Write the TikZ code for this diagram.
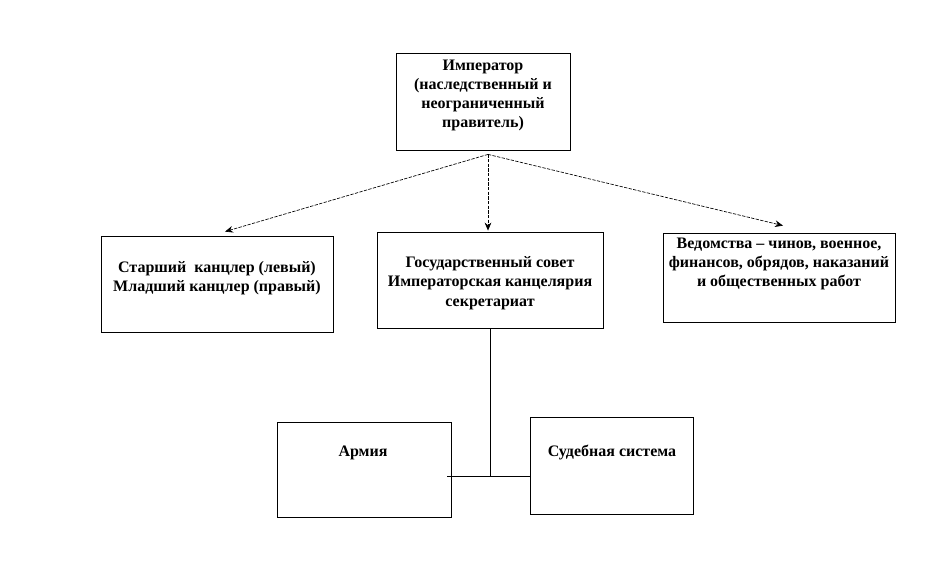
\documentclass[tikz,border=0pt]{standalone}
\usepackage{fontspec}
\setmainfont{Liberation Serif}
\usetikzlibrary{arrows.meta}
\tikzset{
  box/.style={draw=black, line width=0.6pt, inner sep=0pt, fill=white},
  txt/.style={align=center, font=\fontsize{12pt}{14.4pt}\selectfont\bfseries, inner sep=0pt},
  arr/.style={-{Stealth[length=6pt,width=5pt]}, line width=0.5pt, dash pattern=on 2.5pt off 1pt},
  conn/.style={line width=0.7pt}
}
\begin{document}
\begin{tikzpicture}[x=0.75pt,y=-0.75pt]
\useasboundingbox (0,0) rectangle (947,562);
% boxes
\node[box, minimum width=130.5pt, minimum height=72.75pt] (emp) at (483,101.5) {};
\node[box, minimum width=174pt, minimum height=72pt] (lft) at (217,284) {};
\node[box, minimum width=169.5pt, minimum height=72pt] (ctr) at (490,280) {};
\node[box, minimum width=174pt, minimum height=66.75pt] (rgt) at (779,277.5) {};
\node[box, minimum width=130.5pt, minimum height=71.25pt] (army) at (364,469.5) {};
\node[box, minimum width=122.25pt, minimum height=72.75pt] (jud) at (611.5,465.5) {};
% texts
\node[txt] (empt) at (483,95.5) {Император\\(наследственный и\\неограниченный\\правитель)};
\node[txt] (lftt) at (217,278.5) {Старший\ \ канцлер (левый)\\Младший канцлер (правый)};
\node[txt] (ctrt) at (490,283) {Государственный совет\\Императорская канцелярия\\секретариат};
\node[txt] (rgtt) at (779,264) {Ведомства – чинов, военное,\\финансов, обрядов, наказаний\\и общественных работ};
\node[txt] (armyt) at (363,453) {Армия};
\node[txt] (judt) at (612,452) {Судебная система};
% arrows
\coordinate (src) at ([xshift=3.75pt,yshift=-3pt]emp.south);
\coordinate (lend) at ([xshift=6pt,yshift=3pt]lft.north);
\coordinate (cend) at ([xshift=-1.5pt,yshift=0.75pt]ctr.north);
\coordinate (rend) at ([xshift=3pt,yshift=5.25pt]rgt.north);
\draw[arr] (src) -- (lend);
\draw[arr] (src) -- (cend);
\draw[arr] (src) -- (rend);
% lower connectors
\coordinate (jn) at (490,476);
\draw[conn] (ctr.south) -- (ctr.south |- jn);
\draw[conn] ([xshift=-3pt]army.east |- jn) -- (jud.west |- jn);
\end{tikzpicture}
\end{document}
